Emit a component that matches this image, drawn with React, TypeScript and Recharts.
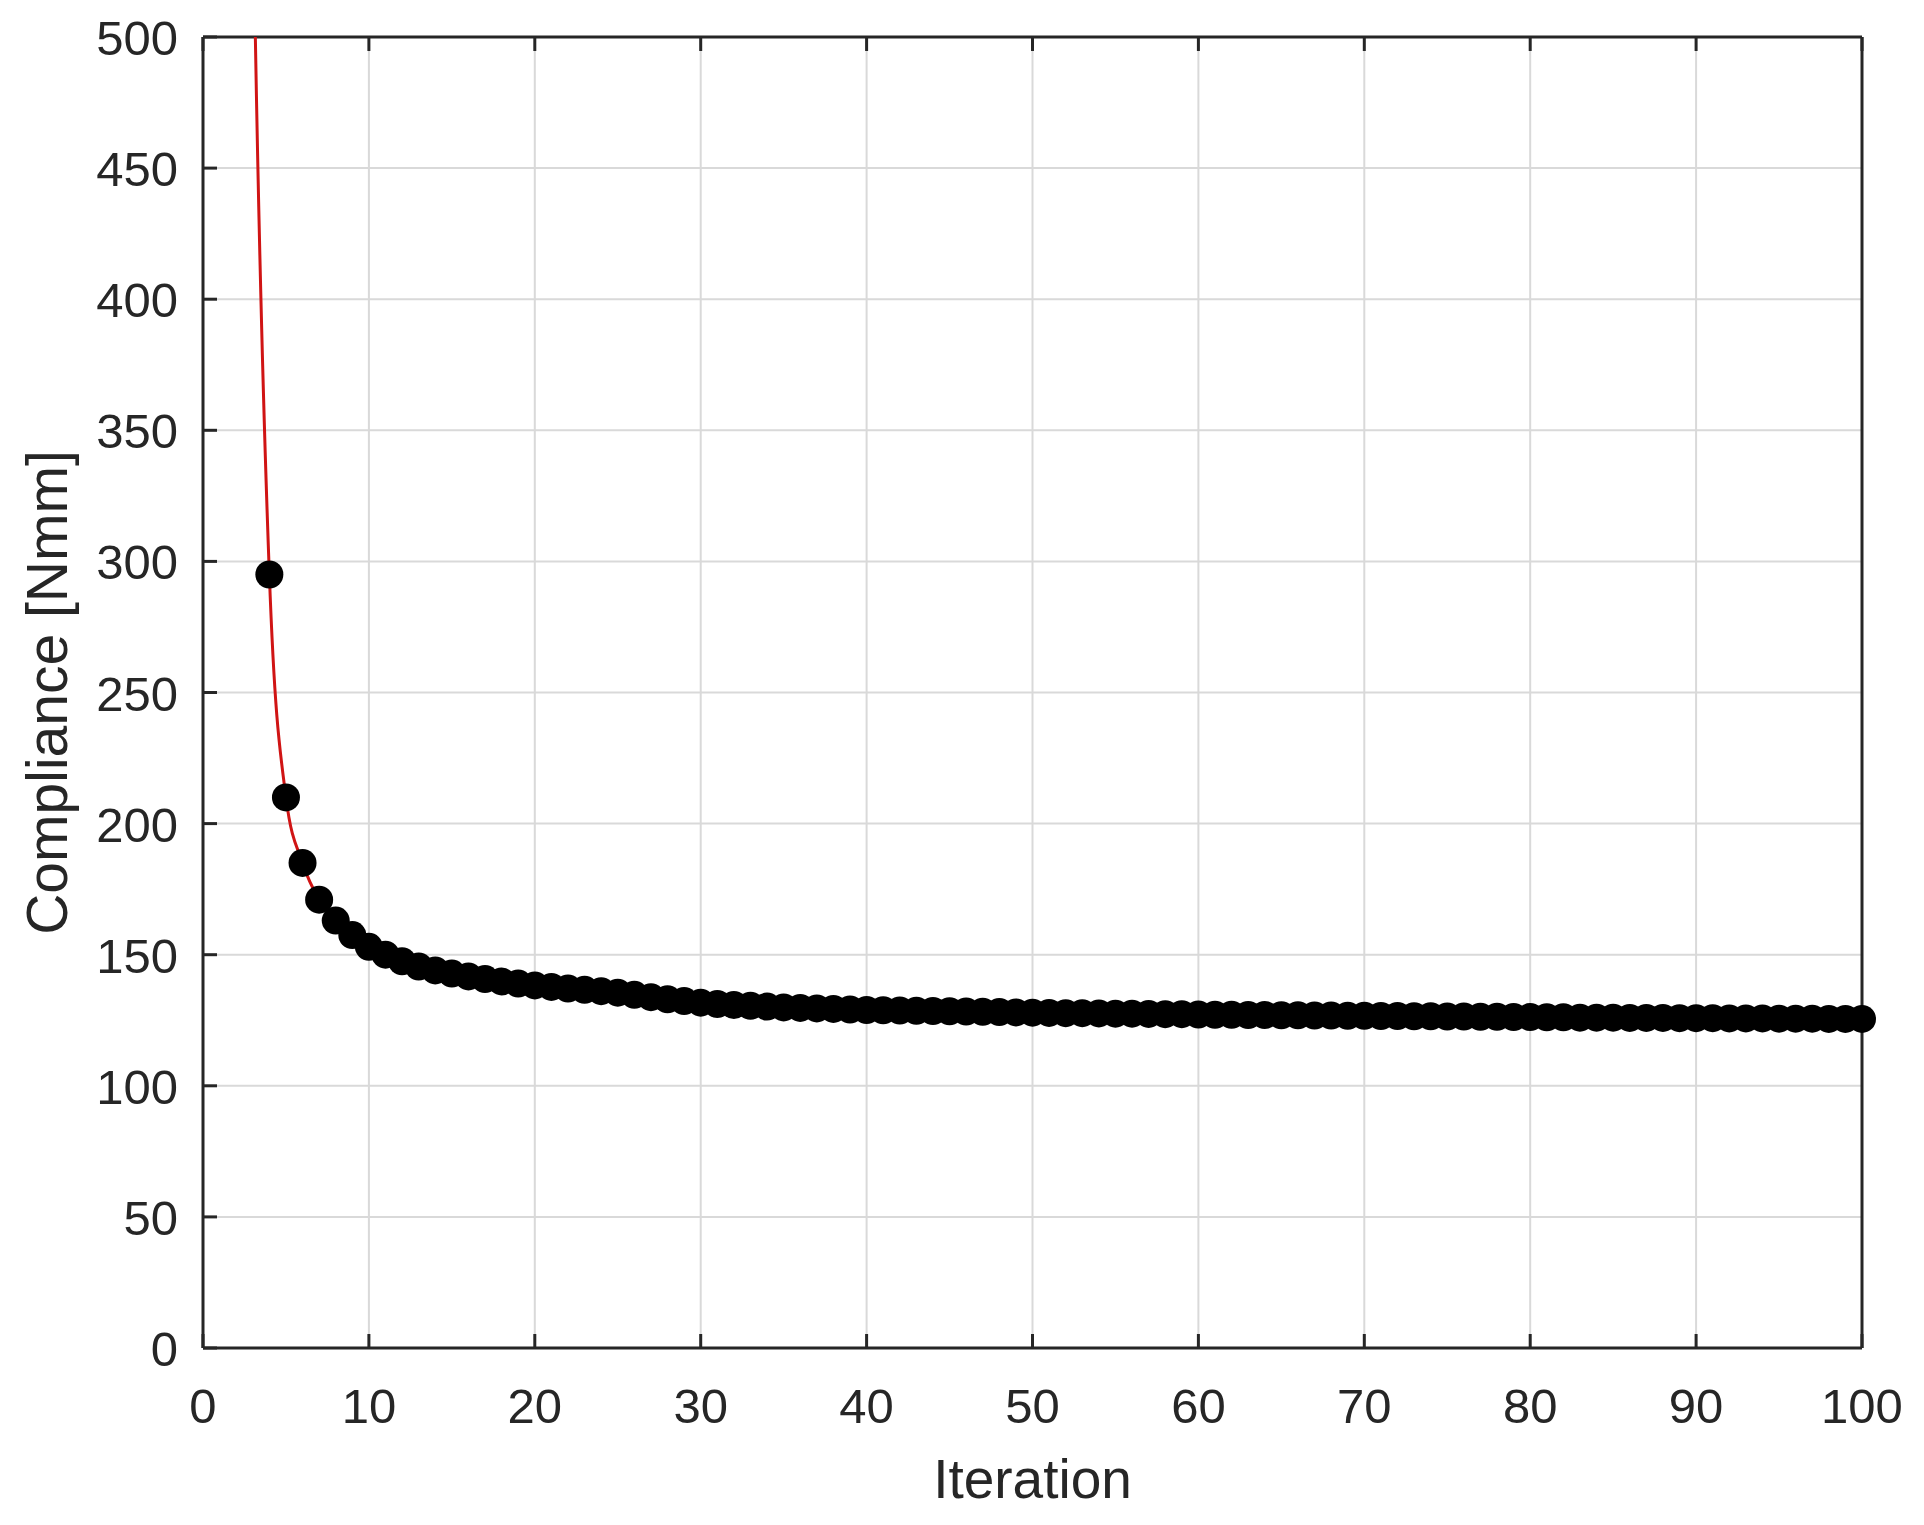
import { CartesianGrid, Line, LineChart, ReferenceLine, XAxis, YAxis } from "recharts"

// compliance per iteration (iteration = index + 1); first three leave the plot top
const compliance = [
  3200, 1150, 560, 295, 210, 185, 171, 163, 157.5, 153,
  150, 147.5, 145.5, 144, 142.8, 141.7, 140.7, 139.8, 139, 138.3,
  137.7, 137.1, 136.6, 136.1, 135.5, 134.7, 133.8, 133, 132.3, 131.7,
  131.2, 130.8, 130.5, 130.2, 129.9, 129.7, 129.5, 129.3, 129.1, 128.9,
  128.8, 128.7, 128.6, 128.5, 128.4, 128.3, 128.2, 128.1, 128.0, 127.9,
  127.8, 127.7, 127.7, 127.6, 127.5, 127.5, 127.4, 127.3, 127.3, 127.2,
  127.1, 127.1, 127.0, 127.0, 126.9, 126.9, 126.8, 126.8, 126.7, 126.7,
  126.6, 126.6, 126.5, 126.5, 126.4, 126.4, 126.3, 126.3, 126.2, 126.2,
  126.1, 126.1, 126.0, 126.0, 126.0, 125.9, 125.9, 125.9, 125.8, 125.8,
  125.8, 125.7, 125.7, 125.7, 125.6, 125.6, 125.6, 125.5, 125.5, 125.5,
]

const xTicks = [0, 10, 20, 30, 40, 50, 60, 70, 80, 90, 100]
const yTicks = [0, 50, 100, 150, 200, 250, 300, 350, 400, 450, 500]

const data = compliance.map((c, i) => ({ iteration: i + 1, compliance: c }))

const AXIS = "#262626"
const FONT = "'Liberation Sans', Arial, Helvetica, sans-serif"
const TICK_LEN = 14

const CHART_W = 1924
const CHART_H = 1525
const TOP = 37
const XAXIS_H = 177
const PLOT_H = CHART_H - TOP - XAXIS_H

// bottom tick: inward mark at bottom + matching mark on the top box edge (matlab style box)
const BottomTick = ({ x, y, payload }: any) => (
  <g>
    <line x1={x} y1={y} x2={x} y2={y - TICK_LEN} stroke={AXIS} strokeWidth={3} />
    <line x1={x} y1={y - PLOT_H} x2={x} y2={y - PLOT_H + TICK_LEN} stroke={AXIS} strokeWidth={3} />
    <text x={x} y={y + 75} textAnchor="middle" fill={AXIS} fontSize={49} fontFamily={FONT}>
      {payload.value}
    </text>
  </g>
)

const LeftTick = ({ x, y, payload }: any) => (
  <g>
    <line x1={x} y1={y} x2={x + TICK_LEN} y2={y} stroke={AXIS} strokeWidth={3} />
    <text x={x - 25} y={y + 18} textAnchor="end" fill={AXIS} fontSize={49} fontFamily={FONT}>
      {payload.value}
    </text>
  </g>
)

const RightTick = ({ x, y }: any) => (
  <line x1={x} y1={y} x2={x - TICK_LEN} y2={y} stroke={AXIS} strokeWidth={3} />
)

export default function App() {
  return (
    <div style={{ position: "absolute", left: 0, top: 0, background: "#fff" }}>
      <LineChart width={CHART_W} height={CHART_H} data={data} margin={{ top: TOP, right: 0, bottom: 0, left: 0 }}>
        <CartesianGrid stroke="#d9d9d9" strokeWidth={2} />
        <XAxis
          dataKey="iteration"
          type="number"
          domain={[0, 100]}
          ticks={xTicks}
          allowDataOverflow
          height={XAXIS_H}
          tickSize={0}
          tickMargin={0}
          tickLine={false}
          tick={BottomTick}
          axisLine={{ stroke: AXIS, strokeWidth: 3 }}
          label={{ value: "Iteration", position: "insideBottom", offset: 27, fill: AXIS, fontSize: 55, fontFamily: FONT }}
        />
        <YAxis
          type="number"
          domain={[0, 500]}
          ticks={yTicks}
          allowDataOverflow
          width={203}
          tickSize={0}
          tickMargin={0}
          tickLine={false}
          tick={LeftTick}
          axisLine={{ stroke: AXIS, strokeWidth: 3 }}
          label={{ value: "Compliance [Nmm]", angle: -90, position: "center", dx: -55, fill: AXIS, fontSize: 57, fontFamily: FONT }}
        />
        <YAxis
          yAxisId="right"
          orientation="right"
          type="number"
          domain={[0, 500]}
          ticks={yTicks}
          width={62}
          tickSize={0}
          tickMargin={0}
          tickLine={false}
          tick={RightTick}
          axisLine={{ stroke: AXIS, strokeWidth: 3 }}
        />
        <ReferenceLine y={500} stroke={AXIS} strokeWidth={3} />
        <Line
          type="monotone"
          dataKey="compliance"
          stroke="#d01414"
          strokeWidth={3}
          dot={{ r: 14, fill: "#000", stroke: "#000", strokeWidth: 0, clipDot: false }}
          isAnimationActive={false}
        />
      </LineChart>
    </div>
  )
}
